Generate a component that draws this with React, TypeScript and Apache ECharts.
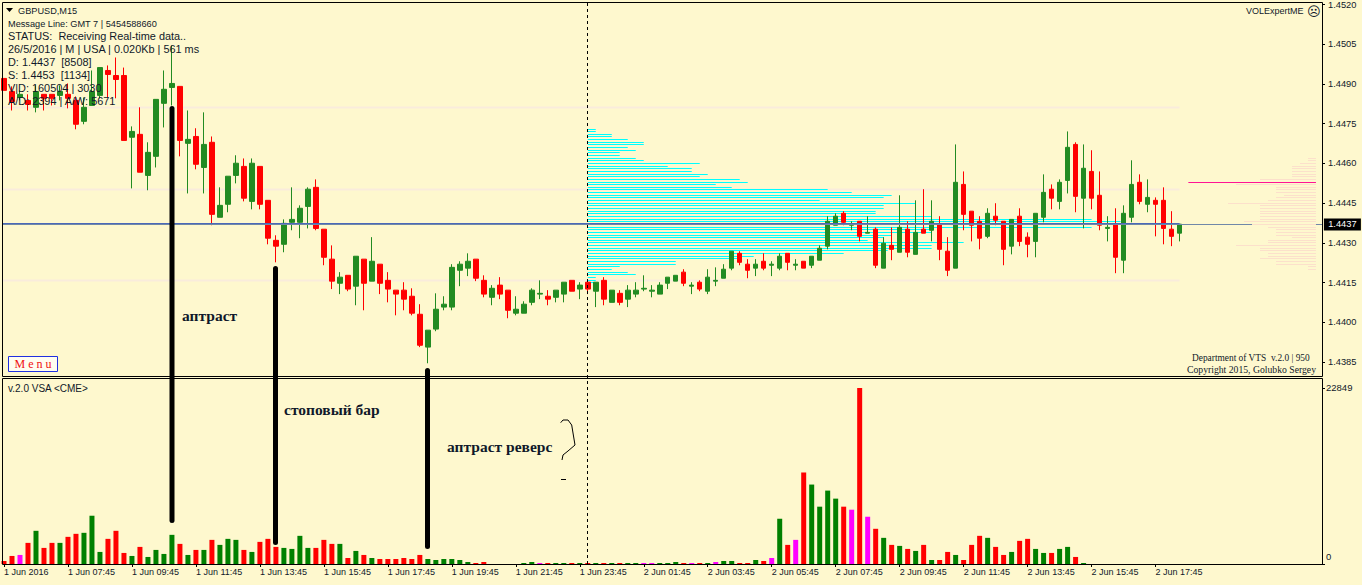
import React, { useEffect, useRef } from "react";
import * as echarts from "echarts";

const xTickLabels = ["1 Jun 2016","1 Jun 07:45","1 Jun 09:45","1 Jun 11:45","1 Jun 13:45","1 Jun 15:45","1 Jun 17:45","1 Jun 19:45","1 Jun 21:45","1 Jun 23:45","2 Jun 01:45","2 Jun 03:45","2 Jun 05:45","2 Jun 07:45","2 Jun 09:45","2 Jun 11:45","2 Jun 13:45","2 Jun 15:45","2 Jun 17:45"];
const priceTicks = [1.4385,1.44,1.4415,1.443,1.4445,1.446,1.4475,1.449,1.4505,1.452];
const volumeTicks = [0,22849];

const opens = [1.44921,1.44872,1.44849,1.44838,1.44812,1.44861,1.44861,1.44857,1.44861,1.44838,
1.44759,1.44819,1.44857,1.44951,1.44932,1.44932,1.44699,1.44710,1.44555,1.44627,
1.44827,1.44887,1.44891,1.44676,1.44702,1.44585,1.44680,1.44397,1.44446,1.44555,
1.44589,1.44457,1.44589,1.44461,1.44310,1.44295,1.44378,1.44378,1.44438,1.44510,
1.44352,1.44239,1.44148,1.44178,1.44137,1.44239,1.44156,1.44220,1.44159,1.44122,
1.44122,1.44099,1.44031,1.43907,1.43975,1.44058,1.44058,1.44197,1.44205,1.44239,
1.44159,1.44095,1.44141,1.44122,1.44035,1.44035,1.44076,1.44107,1.44099,1.44095,
1.44107,1.44159,1.44126,1.44152,1.44118,1.44159,1.44076,1.44110,1.44088,1.44107,
1.44126,1.44118,1.44107,1.44148,1.44156,1.44190,1.44137,1.44152,1.44118,1.44156,
1.44167,1.44205,1.44261,1.44220,1.44205,1.44231,1.44216,1.44205,1.44261,1.44216,
1.44231,1.44216,1.44235,1.44288,1.44367,1.44412,1.44367,1.44382,1.44337,1.44352,
1.44205,1.44291,1.44265,1.44352,1.44257,1.44352,1.44348,1.44371,1.44269,1.44205,
1.44521,1.44420,1.44382,1.44325,1.44401,1.44382,1.44288,1.44401,1.44322,1.44306,
1.44397,1.44503,1.44457,1.44536,1.44672,1.44469,1.44570,1.44480,1.44355,1.44371,
1.44235,1.44397,1.44529,1.44446,1.44461,1.44461,1.44352,1.44337];

const closes = [1.44876,1.44834,1.44861,1.44823,1.44872,1.44846,1.44846,1.44872,1.44846,1.44748,
1.44812,1.44872,1.44962,1.44936,1.44917,1.44687,1.44721,1.44567,1.44642,1.44842,
1.44880,1.44902,1.44687,1.44691,1.44597,1.44672,1.44408,1.44442,1.44552,1.44601,
1.44469,1.44601,1.44446,1.44318,1.44288,1.44374,1.44389,1.44431,1.44503,1.44355,
1.44246,1.44156,1.44171,1.44126,1.44250,1.44148,1.44231,1.44148,1.44126,1.44107,
1.44088,1.44035,1.43914,1.43971,1.44050,1.44069,1.44208,1.44220,1.44231,1.44167,
1.44107,1.44129,1.44107,1.44046,1.44050,1.44069,1.44122,1.44110,1.44088,1.44122,
1.44152,1.44118,1.44141,1.44126,1.44152,1.44088,1.44122,1.44076,1.44122,1.44122,
1.44129,1.44122,1.44141,1.44171,1.44178,1.44148,1.44141,1.44126,1.44171,1.44159,
1.44201,1.44269,1.44227,1.44197,1.44220,1.44205,1.44220,1.44250,1.44227,1.44220,
1.44205,1.44250,1.44280,1.44382,1.44401,1.44378,1.44371,1.44325,1.44340,1.44216,
1.44299,1.44276,1.44359,1.44265,1.44340,1.44337,1.44382,1.44276,1.44197,1.44529,
1.44408,1.44367,1.44318,1.44412,1.44386,1.44276,1.44389,1.44306,1.44295,1.44412,
1.44491,1.44469,1.44529,1.44661,1.44476,1.44582,1.44469,1.44367,1.44359,1.44246,
1.44412,1.44521,1.44457,1.44472,1.44446,1.44355,1.44325,1.44371];

const lows = [1.44876,1.44800,1.44838,1.44800,1.44793,1.44800,1.44819,1.44838,1.44808,1.44729,
1.44748,1.44819,1.44846,1.44849,1.44846,1.44687,1.44506,1.44567,1.44499,1.44585,
1.44736,1.44819,1.44627,1.44487,1.44578,1.44487,1.44367,1.44397,1.44416,1.44525,
1.44457,1.44427,1.44427,1.44295,1.44227,1.44265,1.44348,1.44318,1.44355,1.44348,
1.44216,1.44126,1.44107,1.44118,1.44065,1.44046,1.44156,1.44107,1.44076,1.44027,
1.44046,1.44027,1.43907,1.43846,1.43967,1.44046,1.44046,1.44137,1.44175,1.44156,
1.44095,1.44065,1.44088,1.44016,1.44027,1.44035,1.44065,1.44088,1.44065,1.44076,
1.44076,1.44118,1.44088,1.44107,1.44058,1.44065,1.44076,1.44065,1.44058,1.44095,
1.44118,1.44095,1.44107,1.44126,1.44156,1.44137,1.44107,1.44118,1.44107,1.44137,
1.44167,1.44197,1.44216,1.44167,1.44175,1.44197,1.44175,1.44197,1.44197,1.44197,
1.44205,1.44205,1.44235,1.44276,1.44367,1.44367,1.44348,1.44306,1.44337,1.44205,
1.44205,1.44235,1.44265,1.44246,1.44257,1.44337,1.44306,1.44235,1.44175,1.44205,
1.44348,1.44306,1.44276,1.44318,1.44367,1.44216,1.44257,1.44288,1.44246,1.44246,
1.44378,1.44427,1.44427,1.44487,1.44416,1.44355,1.44427,1.44348,1.44306,1.44186,
1.44186,1.44378,1.44446,1.44416,1.44325,1.44295,1.44288,1.44306];

const highs = [1.44921,1.44891,1.44876,1.44861,1.44895,1.44861,1.44861,1.44895,1.44902,1.44853,
1.44849,1.44951,1.44962,1.44970,1.45000,1.44962,1.44740,1.44812,1.44680,1.44842,
1.44951,1.45045,1.44891,1.44800,1.44733,1.44793,1.44702,1.44510,1.44552,1.44631,
1.44619,1.44619,1.44589,1.44461,1.44329,1.44389,1.44510,1.44442,1.44510,1.44540,
1.44352,1.44291,1.44190,1.44178,1.44250,1.44239,1.44322,1.44220,1.44190,1.44122,
1.44152,1.44129,1.44069,1.43971,1.44110,1.44099,1.44220,1.44231,1.44261,1.44239,
1.44178,1.44141,1.44171,1.44122,1.44099,1.44080,1.44129,1.44159,1.44122,1.44122,
1.44152,1.44159,1.44152,1.44152,1.44152,1.44171,1.44122,1.44122,1.44141,1.44152,
1.44178,1.44141,1.44152,1.44171,1.44178,1.44201,1.44152,1.44159,1.44201,1.44208,
1.44220,1.44269,1.44269,1.44239,1.44239,1.44261,1.44231,1.44261,1.44261,1.44239,
1.44231,1.44250,1.44291,1.44401,1.44412,1.44420,1.44382,1.44382,1.44401,1.44359,
1.44322,1.44359,1.44480,1.44382,1.44461,1.44503,1.44461,1.44401,1.44322,1.44672,
1.44570,1.44420,1.44401,1.44431,1.44450,1.44382,1.44389,1.44431,1.44340,1.44412,
1.44559,1.44521,1.44540,1.44721,1.44680,1.44672,1.44650,1.44570,1.44401,1.44431,
1.44442,1.44612,1.44559,1.44540,1.44472,1.44510,1.44420,1.44371];

const volumes = [392,1044,1175,2742,4309,2089,2742,2742,3525,3917,
4047,6267,1567,3264,4309,1436,1044,2220,914,1828,
1306,3786,2611,1175,1828,1828,3133,2481,3264,3133,
1828,1567,2872,3264,2220,2089,1958,3656,2089,2089,
3133,2611,2611,783,1697,1175,783,653,653,653,
783,653,1175,653,522,653,653,522,261,131,
261,0,0,0,0,131,261,131,131,131,
131,131,131,131,131,131,131,131,131,131,
131,131,131,131,261,131,131,131,131,261,
392,392,131,131,522,392,783,5875,2481,3133,
11881,10314,7442,9531,8486,7442,7050,22849,6136,4570,
3395,2481,2350,1958,1697,2481,522,522,1567,1175,
522,2481,3656,3395,2220,1175,1567,3003,3264,1958,
1436,1436,1958,2220,914,131];

const volumeKinds = "RRMRGRRGRRGGGRRRGRGGGGRGRGRGGGRGRRRGGGGRRRGRGRGRRRRRRGGGGGGRRGGGGGGMRGGRGRGRGRGGMMGGGRMRGMGGRRGRMGRMRGGGGRMRMRGRGRGRGRRGRRRGRRGRRGGRGGRG";

const profileLevels = [1.4473,1.4472,1.4471,1.4470,1.4469,1.4468,1.4467,1.4466,1.4465,1.4464,1.4463,1.4462,1.4461,1.4460,1.4459,1.4458,1.4457,1.4456,1.4455,1.4454,1.4453,1.4452,1.4451,1.4450,1.4449,1.4448,1.4447,1.4446,1.4445,1.4444,1.4443,1.4442,1.4441,1.4440,1.4439,1.4438,1.4437,1.4436,1.4435,1.4434,1.4433,1.4432,1.4431,1.4430,1.4429,1.4428,1.4427,1.4426,1.4425,1.4424,1.4423,1.4422,1.4421,1.4420,1.4419,1.4418,1.4417,1.4416,1.4415];
const profileVolumes = [8,8,24,24,40,56,56,40,48,32,32,48,56,112,80,104,104,120,112,152,160,128,144,240,264,304,296,232,328,296,296,288,288,344,504,533,400,504,344,344,304,296,280,376,344,344,300,256,166,150,88,88,32,24,40,48,8,8,8];

const sideLevels = [1.4462,1.4461,1.4460,1.4459,1.4458,1.4457,1.4456,1.4455,1.4454,1.4453,1.4452,1.4451,1.4450,1.4449,1.4448,1.4447,1.4446,1.4445,1.4444,1.4443,1.4442,1.4441,1.4440,1.4439,1.4438,1.4437,1.4436,1.4435,1.4434,1.4433,1.4432,1.4431,1.4430,1.4429,1.4428,1.4427,1.4426,1.4425,1.4424,1.4423,1.4422,1.4421,1.4420];
const sideVolumes = [8,8,16,24,24,24,24,24,56,80,80,40,40,40,32,40,48,88,56,56,56,56,56,56,72,64,48,40,40,40,24,48,48,80,56,56,48,48,56,40,40,8,8];

const paleLevels = [1.44812,1.44503,1.44159];
const currentPrice = 1.4437;
const pinkLevel = 1.44528;

const CREAM = "#FEF8CE";
const UI_FONT = '"Liberation Sans"';
const BAR_COUNT = 165;
const categories = Array.from({ length: BAR_COUNT }, (_, i) =>
  i % 8 === 0 && xTickLabels[i / 8] ? xTickLabels[i / 8] : ""
);
const kindColor: Record<string, string> = { R: "#FF0000", G: "#008000", M: "#FF00FF" };

const hline = (color: string, lineWidth: number, dy = 0) => (_p: any, api: any) => {
  const a = api.coord([api.value(0), api.value(1)]);
  const b = api.coord([api.value(2), api.value(1)]);
  const y = Math.floor(a[1]) + 0.5 + dy;
  return {
    type: "line",
    shape: { x1: a[0], y1: y, x2: b[0], y2: y },
    style: { stroke: color, lineWidth },
  };
};

const hlineSeries = (name: string, data: number[][], color: string, lineWidth: number, z: number, dy = 0) => ({
  type: "custom",
  name,
  xAxisIndex: 2,
  yAxisIndex: 0,
  silent: true,
  z,
  clip: false,
  encode: { x: 0, y: 1 },
  renderItem: hline(color, lineWidth, dy),
  data,
});

const txt = (text: string, x: number, y: number, font: string, fill = "#10182a", extra: any = {}) => ({
  type: "text",
  x,
  y,
  z: 50,
  silent: true,
  style: { text, font, fill, textVerticalAlign: "middle", ...extra },
});

const vline = (x: number, y1: number, y2: number, lineWidth: number, extra: any = {}) => ({
  type: "line",
  z: 40,
  silent: true,
  shape: { x1: x, y1, x2: x, y2 },
  style: { stroke: "#000", lineWidth, ...extra },
});

export default function App() {
  const ref = useRef<HTMLDivElement>(null);
  useEffect(() => {
    if (!ref.current) return;
    const chart = echarts.init(ref.current, undefined, { renderer: "svg" });
    const small = `9.2px ${UI_FONT}`;
    const sub = `10px ${UI_FONT}`;
    const status = `10.9px ${UI_FONT}`;
    const note = 'bold 15.5px "Liberation Serif"';
    chart.setOption({
      animation: false,
      backgroundColor: CREAM,
      grid: [
        { left: -0.5, top: 2, width: 1320, height: 374 },
        { left: -0.5, top: 378, width: 1320, height: 186 },
      ],
      xAxis: [
        { type: "category", gridIndex: 0, data: categories, show: false },
        {
          type: "category",
          gridIndex: 1,
          data: categories,
          axisLine: { show: false },
          axisTick: {
            show: true,
            alignWithLabel: true,
            length: 3,
            interval: (i: number) => i % 8 === 0 && i <= 144,
            lineStyle: { color: "#000" },
          },
          axisLabel: {
            interval: (i: number) => i % 8 === 0 && i <= 144,
            align: "left",
            margin: 3,
            color: "#10182a",
            fontFamily: UI_FONT,
            fontSize: 9,
          },
          splitLine: { show: false },
        },
        { type: "value", gridIndex: 0, min: -0.5, max: 164.5, show: false, position: "top" },
      ],
      yAxis: [
        {
          type: "value",
          gridIndex: 0,
          position: "right",
          offset: 2.5,
          min: 1.43798,
          max: 1.452075,
          splitLine: { show: false },
          axisLine: { show: false, onZero: false },
          axisTick: { show: true, length: 3, customValues: priceTicks, lineStyle: { color: "#000" } },
          axisLabel: {
            customValues: priceTicks,
            margin: 6,
            color: "#10182a",
            fontFamily: UI_FONT,
            fontSize: 9.3,
            formatter: (v: number) => v.toFixed(4),
          },
        },
        {
          type: "value",
          gridIndex: 1,
          position: "right",
          offset: 2.5,
          min: 0,
          max: 24147,
          splitLine: { show: false },
          axisLine: { show: false, onZero: false },
          axisTick: { show: true, length: 3, customValues: volumeTicks, lineStyle: { color: "#000" } },
          axisLabel: {
            customValues: volumeTicks,
            margin: 4,
            color: "#10182a",
            fontFamily: UI_FONT,
            fontSize: 9.5,
            padding: [0, 0, 3, 0],
            verticalAlignMinLabel: "bottom",
            formatter: (v: number) => String(v),
          },
        },
      ],
      series: [
        hlineSeries("levels", paleLevels.map((p) => [-0.2, p, 147]), "#F9ECDC", 2, 1),
        hlineSeries("profile", profileLevels.map((p, i) => [73, p, 73 + profileVolumes[i] / 8]), "#00FFFF", 1, 2),
        {
          type: "candlestick",
          name: "GBPUSD",
          xAxisIndex: 0,
          yAxisIndex: 0,
          barWidth: 5,
          z: 3,
          itemStyle: {
            color: "#228B22",
            color0: "#FF0000",
            borderColor: "#228B22",
            borderColor0: "#FF0000",
            borderWidth: 1,
          },
          data: opens.map((o, i) => [o, closes[i], lows[i], highs[i]]),
        },
        hlineSeries("last", [[-0.2, currentPrice, 164.85]], "#7088A8", 1, 4),
        hlineSeries("lastBlue", [[-0.2, currentPrice, 147]], "#4A68B8", 1, 4, -1),
        hlineSeries("side", sideLevels.map((p, i) => [164.06 - sideVolumes[i] / 8, p, 164.06]), "#FCE0CB", 1, 5),
        hlineSeries("pink", [[148.1, pinkLevel, 164.06]], "#FF1493", 1, 6),
        {
          type: "custom",
          name: "lastTag",
          xAxisIndex: 2,
          yAxisIndex: 0,
          silent: true,
          clip: false,
          z: 7,
          encode: { x: 0, y: 1 },
          data: [[165.05, currentPrice]],
          renderItem: (_p: any, api: any) => {
            const c = api.coord([api.value(0), api.value(1)]);
            return {
              type: "group",
              children: [
                { type: "rect", shape: { x: c[0], y: c[1] - 6, width: 37, height: 12 }, style: { fill: "#000" } },
                {
                  type: "text",
                  style: {
                    text: api.value(1).toFixed(4),
                    x: c[0] + 18.5,
                    y: c[1],
                    fill: "#fff",
                    font: `9.3px ${UI_FONT}`,
                    textAlign: "center",
                    textVerticalAlign: "middle",
                  },
                },
              ],
            };
          },
        },
        {
          type: "bar",
          name: "VSA",
          xAxisIndex: 1,
          yAxisIndex: 1,
          barWidth: 5,
          itemStyle: { color: (p: any) => kindColor[volumeKinds[p.dataIndex]] || "#008000" },
          data: volumes,
        },
      ],
      graphic: [
        { type: "rect", z: 30, silent: true, shape: { x: 2.5, y: 2.5, width: 1320, height: 374 }, style: { fill: "none", stroke: "#000", lineWidth: 1 } },
        { type: "rect", z: 30, silent: true, shape: { x: 2.5, y: 378.5, width: 1320, height: 186 }, style: { fill: "none", stroke: "#000", lineWidth: 1 } },
        vline(587.5, 3, 564, 1, { lineDash: [3, 3] }),
        vline(172, 108.5, 520.5, 5, { lineCap: "round" }),
        vline(275.5, 268.5, 542.5, 5, { lineCap: "round" }),
        vline(427.5, 370.5, 546.5, 5, { lineCap: "round" }),
        { type: "polygon", z: 50, silent: true, shape: { points: [[6, 8], [13, 8], [9.5, 12]] }, style: { fill: "#000" } },
        txt("GBPUSD,M15", 18, 10.5, small),
        txt("Message Line: GMT 7 | 5454588660", 8, 23.5, small),
        txt("STATUS:  Receiving Real-time data..", 8, 36, status),
        txt("26/5/2016 | M | USA | 0.020Kb | 561 ms", 8, 49, status),
        txt("D: 1.4437  [8508]", 8, 62, status),
        txt("S: 1.4453  [1134]", 8, 75, status),
        txt("V|D: 160504 | 3030", 8, 88, status),
        txt("A/D: 2394 | A/W: 5671", 8, 101, status),
        txt("VOLExpertME", 1246, 11, "9px " + UI_FONT),
        txt("\u2639", 1307, 11, '13px "DejaVu Sans"', "#10182a"),
        { type: "rect", z: 45, silent: true, shape: { x: 8.5, y: 356.5, width: 49, height: 15 }, style: { fill: "#FFFDF0", stroke: "#2030E0", lineWidth: 1 } },
        txt("M e n u", 33, 364, '12px "Liberation Serif"', "#F01010", { textAlign: "center" }),
        txt("Department of VTS  v.2.0 | 950", 1192, 358, '9.4px "Liberation Serif"'),
        txt("Copyright 2015, Golubko Sergey", 1187, 369, '9.7px "Liberation Serif"'),
        txt("v.2.0 VSA <CME>", 8, 388, sub),
        txt("\u0430\u043f\u0442\u0440\u0430\u0441\u0442", 182, 315.5, note),
        txt("\u0441\u0442\u043e\u043f\u043e\u0432\u044b\u0439 \u0431\u0430\u0440", 284, 409.5, note),
        txt("\u0430\u043f\u0442\u0440\u0430\u0441\u0442 \u0440\u0435\u0432\u0435\u0440\u0441", 447, 446.5, note),
        {
          type: "polyline",
          z: 40,
          silent: true,
          shape: { points: [[560.7, 422.7], [563, 420], [568, 420], [571.7, 425], [573, 433], [575, 445], [568, 451], [563, 455], [562, 460]] },
          style: { stroke: "#000", lineWidth: 1, fill: "none" },
        },
        {
          type: "polyline",
          z: 40,
          silent: true,
          shape: { points: [[561, 479.5], [566, 479.5]] },
          style: { stroke: "#000", lineWidth: 1, fill: "none" },
        },
      ],
    });
    return () => chart.dispose();
  }, []);
  return <div ref={ref} style={{ position: "fixed", left: 0, top: 0, width: 1362, height: 585, background: CREAM }} />;
}
